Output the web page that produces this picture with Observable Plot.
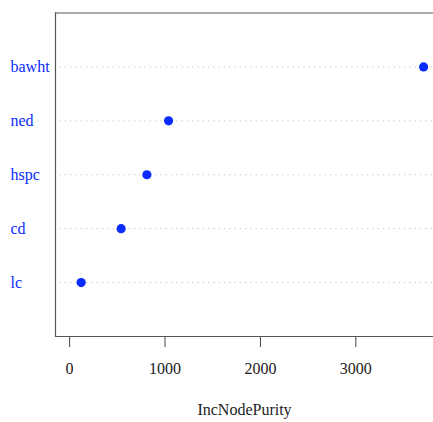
<!DOCTYPE html>
<html>
<head>
<meta charset="utf-8">
<script src="https://cdn.jsdelivr.net/npm/d3@7"></script>
<script src="https://cdn.jsdelivr.net/npm/@observablehq/plot@0.6"></script>
<style>
  html, body { margin: 0; padding: 0; background: #fff; }
  svg { display: block; }
</style>
</head>
<body>
<div id="chart"></div>
<script>
const variables = ["bawht", "ned", "hspc", "cd", "lc"];
const incNodePurity = [3710, 1037, 810, 540, 121];
const xTicks = [0, 1000, 2000, 3000];
const xLabel = "IncNodePurity";

const data = variables.map((v, i) => ({variable: v, value: incNodePurity[i]}));

const blue = "#0a2cff";
const font = "'Liberation Serif', 'Times New Roman', serif";

const chart = Plot.plot({
  width: 433,
  height: 422,
  marginLeft: 55,
  marginRight: 0,
  marginTop: 12.5,
  marginBottom: 86,
  style: {fontFamily: font, fontSize: "16px", background: "#fff", color: "#222"},
  x: {domain: [-148, 3814]},
  y: {type: "point", domain: variables, padding: 1, round: false, axis: null},
  marks: [
    Plot.gridY(variables, {stroke: "#c8c8c8", strokeOpacity: 1, strokeDasharray: "1.3,4", strokeWidth: 1, x1: -100}),
    Plot.axisX({
      ticks: xTicks,
      tickSize: 11,
      tickPadding: 15,
      tickFormat: d => String(d),
      label: xLabel,
      labelAnchor: "center",
      labelArrow: "none",
      labelOffset: 78,
      fontSize: 16,
      stroke: "#444"
    }),
    Plot.frame({anchor: "left", stroke: "#555", strokeWidth: 1.2}),
    Plot.frame({anchor: "top", stroke: "#555", strokeWidth: 1.2}),
    Plot.frame({anchor: "bottom", stroke: "#555", strokeWidth: 1.2}),
    Plot.dot(data, {x: "value", y: "variable", r: 4.6, fill: blue, stroke: "none"}),
    Plot.text(variables, {y: d => d, frameAnchor: "left", dx: -45, textAnchor: "start", fill: blue, fontSize: 16})
  ]
});

document.getElementById("chart").appendChild(chart);
</script>
</body>
</html>
